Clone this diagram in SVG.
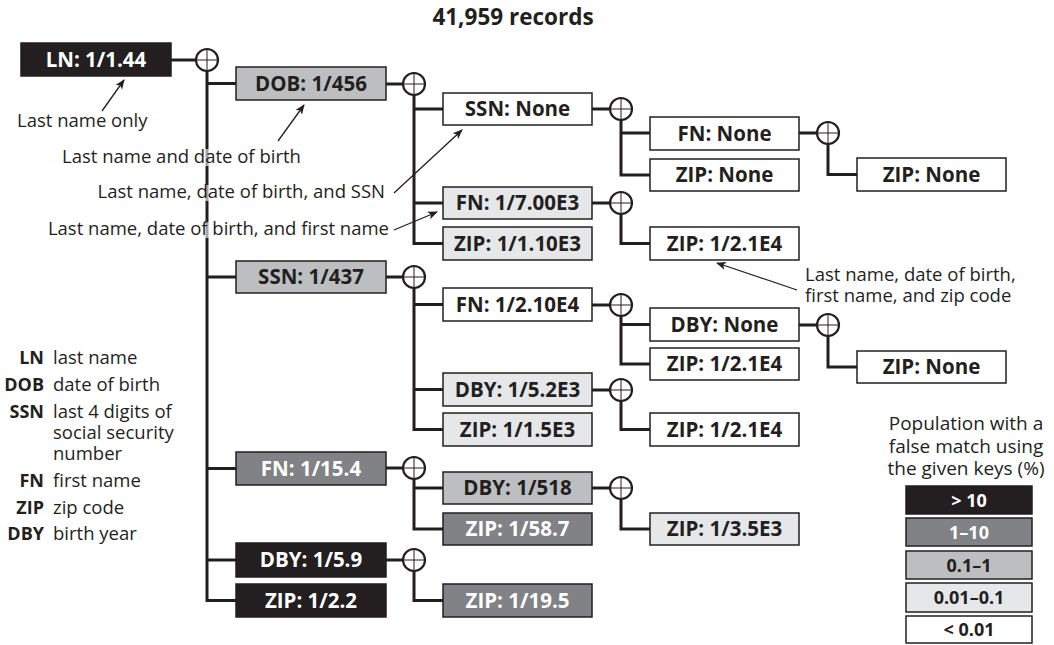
<svg xmlns="http://www.w3.org/2000/svg" width="1054" height="645" viewBox="0 0 1054 645">
<defs>
<style>
text{font-family:"Open Sans","Noto Sans","Liberation Sans",sans-serif;fill:#231f20}
.lbl{font-size:20.5px;font-weight:bold;text-anchor:middle}
.w{fill:#ffffff}
.box{stroke:#231f20;stroke-width:1.5}
.k0{fill:#231f20}.k1{fill:#808285}.k2{fill:#bcbec0}.k3{fill:#e6e7e8}.k4{fill:#ffffff}
.con{fill:none;stroke:#231f20;stroke-width:3}
.circ{fill:#ffffff;stroke:#231f20;stroke-width:2.2}
.cross{stroke:#231f20;stroke-width:1}
.ann{font-size:18.5px}
.arr{stroke:#231f20;stroke-width:1.3;fill:none;marker-end:url(#ah)}
.abb{font-size:18px;font-weight:bold;text-anchor:end}
.desc{font-size:18.5px}
.leg{font-size:19px;text-anchor:middle}
.legl{font-size:18px;font-weight:bold;text-anchor:middle}
.veil{fill:#ffffff;fill-opacity:0.6}
</style>
<marker id="ah" viewBox="0 0 10 10" refX="9" refY="5" markerWidth="10" markerHeight="10" markerUnits="userSpaceOnUse" orient="auto">
<path d="M0,1 L10,5 L0,9 L2.5,5 Z" fill="#231f20"/>
</marker>
<g id="xc">
<circle r="11" class="circ"/>
<line x1="-11" y1="0" x2="11" y2="0" class="cross"/>
<line x1="0" y1="-11" x2="0" y2="11" class="cross"/>
</g>
</defs>
<rect width="1054" height="645" fill="#ffffff"/>
<text x="513" y="25" style="font-size:22.5px;font-weight:bold;text-anchor:middle">41,959 records</text>

<g id="connectors">
<path class="con" d="M171,60 H196"/>
<path class="con" d="M207,71 V600.5 H236 M207,83.5 H236 M207,277 H236 M207,468.5 H236 M207,560 H236"/>
<path class="con" d="M386,84 H403 M386,277 H403 M386,468 H403 M386,560 H403"/>
<path class="con" d="M414,95 V243.5 H443 M414,109 H443 M414,203 H443"/>
<path class="con" d="M414,288 V429.5 H443 M414,304.5 H443 M414,389.5 H443"/>
<path class="con" d="M414,479 V529 H443 M414,488 H443"/>
<path class="con" d="M414,571 V600.5 H443"/>
<path class="con" d="M592,109 H610 M592,203 H610 M592,305 H610 M592,390 H610 M592,488 H610"/>
<path class="con" d="M621,120 V175 H650 M621,133 H650"/>
<path class="con" d="M621,214 V243.5 H650"/>
<path class="con" d="M621,316 V364 H650 M621,324.5 H650"/>
<path class="con" d="M621,401 V429.5 H650"/>
<path class="con" d="M621,499 V529 H650"/>
<path class="con" d="M799,133 H817 M799,325 H817"/>
<path class="con" d="M828,144 V174.5 H857"/>
<path class="con" d="M828,336 V367 H857"/>
<rect class="veil" x="204" y="149" width="6" height="17"/>
<rect class="veil" x="204" y="185" width="6" height="16"/>
<rect class="veil" x="204" y="221" width="6" height="17"/>
<use href="#xc" x="207" y="60"/>
<use href="#xc" x="414" y="84"/>
<use href="#xc" x="414" y="277"/>
<use href="#xc" x="414" y="468"/>
<use href="#xc" x="414" y="560"/>
<use href="#xc" x="621" y="109"/>
<use href="#xc" x="621" y="203"/>
<use href="#xc" x="621" y="305"/>
<use href="#xc" x="621" y="390"/>
<use href="#xc" x="621" y="488"/>
<use href="#xc" x="828" y="133"/>
<use href="#xc" x="828" y="325"/>
<line class="arr" x1="102" y1="111" x2="124" y2="80"/>
<line class="arr" x1="278" y1="141" x2="304" y2="105"/>
<line class="arr" x1="394" y1="193" x2="462" y2="130"/>
<line class="arr" x1="394" y1="230" x2="437" y2="212"/>
<line class="arr" x1="797" y1="290" x2="717" y2="263"/>
</g>

<g id="n-ln"><rect class="box k0" x="21" y="43" width="150" height="33"/><text class="lbl w" x="96" y="66.5">LN: 1/1.44</text></g>

<g id="n-dob"><rect class="box k2" x="236" y="67" width="150" height="33"/><text class="lbl" x="311" y="90.5">DOB: 1/456</text></g>
<g id="n-ssn"><rect class="box k2" x="236" y="261" width="150" height="32"/><text class="lbl" x="311" y="284">SSN: 1/437</text></g>
<g id="n-fn"><rect class="box k1" x="236" y="452" width="150" height="33"/><text class="lbl w" x="311" y="475.5">FN: 1/15.4</text></g>
<g id="n-dby"><rect class="box k0" x="236" y="543" width="150" height="34"/><text class="lbl w" x="311" y="567">DBY: 1/5.9</text></g>
<g id="n-zip"><rect class="box k0" x="236" y="584" width="150" height="33"/><text class="lbl w" x="311" y="607.5">ZIP: 1/2.2</text></g>

<g id="n-dob-ssn"><rect class="box k4" x="443" y="93" width="149" height="32"/><text class="lbl" x="517.5" y="116">SSN: None</text></g>
<g id="n-dob-fn"><rect class="box k3" x="443" y="187" width="149" height="32"/><text class="lbl" x="517.5" y="210">FN: 1/7.00E3</text></g>
<g id="n-dob-zip"><rect class="box k3" x="443" y="227" width="149" height="33"/><text class="lbl" x="517.5" y="250.5">ZIP: 1/1.10E3</text></g>
<g id="n-ssn-fn"><rect class="box k4" x="443" y="288" width="149" height="33"/><text class="lbl" x="517.5" y="311.5">FN: 1/2.10E4</text></g>
<g id="n-ssn-dby"><rect class="box k3" x="443" y="373" width="149" height="33"/><text class="lbl" x="517.5" y="396.5">DBY: 1/5.2E3</text></g>
<g id="n-ssn-zip"><rect class="box k3" x="443" y="413" width="149" height="33"/><text class="lbl" x="517.5" y="436.5">ZIP: 1/1.5E3</text></g>
<g id="n-fn-dby"><rect class="box k2" x="443" y="472" width="149" height="32"/><text class="lbl" x="517.5" y="495">DBY: 1/518</text></g>
<g id="n-fn-zip"><rect class="box k1" x="443" y="513" width="149" height="32"/><text class="lbl w" x="517.5" y="536">ZIP: 1/58.7</text></g>
<g id="n-dby-zip"><rect class="box k1" x="443" y="584" width="149" height="33"/><text class="lbl w" x="517.5" y="607.5">ZIP: 1/19.5</text></g>

<g id="n-dob-ssn-fn"><rect class="box k4" x="650" y="117" width="149" height="33"/><text class="lbl" x="724.5" y="140.5">FN: None</text></g>
<g id="n-dob-ssn-zip"><rect class="box k4" x="650" y="159" width="149" height="32"/><text class="lbl" x="724.5" y="182">ZIP: None</text></g>
<g id="n-dob-fn-zip"><rect class="box k4" x="650" y="227" width="149" height="33"/><text class="lbl" x="724.5" y="250.5">ZIP: 1/2.1E4</text></g>
<g id="n-ssn-fn-dby"><rect class="box k4" x="650" y="308" width="149" height="33"/><text class="lbl" x="724.5" y="331.5">DBY: None</text></g>
<g id="n-ssn-fn-zip"><rect class="box k4" x="650" y="348" width="149" height="32"/><text class="lbl" x="724.5" y="371">ZIP: 1/2.1E4</text></g>
<g id="n-ssn-dby-zip"><rect class="box k4" x="650" y="413" width="149" height="33"/><text class="lbl" x="724.5" y="436.5">ZIP: 1/2.1E4</text></g>
<g id="n-fn-dby-zip"><rect class="box k3" x="650" y="513" width="149" height="32"/><text class="lbl" x="724.5" y="536">ZIP: 1/3.5E3</text></g>

<g id="n-dob-ssn-fn-zip"><rect class="box k4" x="857" y="158" width="149" height="33"/><text class="lbl" x="931.5" y="181.5">ZIP: None</text></g>
<g id="n-ssn-fn-dby-zip"><rect class="box k4" x="857" y="351" width="149" height="32"/><text class="lbl" x="931.5" y="374">ZIP: None</text></g>

<g id="annotations">
<text class="ann" x="17" y="127">Last name only</text>
<text class="ann" x="62" y="163">Last name and date of birth</text>
<text class="ann" x="385" y="198" text-anchor="end">Last name, date of birth, and SSN</text>
<text class="ann" x="389" y="235" text-anchor="end">Last name, date of birth, and first name</text>
<text class="ann" x="805" y="281">Last name, date of birth,</text>
<text class="ann" x="805" y="302">first name, and zip code</text>
</g>

<g id="key">
<text class="abb" x="44" y="364">LN</text><text class="desc" x="53" y="364">last name</text>
<text class="abb" x="44" y="391">DOB</text><text class="desc" x="53" y="391">date of birth</text>
<text class="abb" x="44" y="418">SSN</text><text class="desc" x="53" y="418">last 4 digits of</text>
<text class="desc" x="53" y="439">social security</text>
<text class="desc" x="53" y="460">number</text>
<text class="abb" x="44" y="487">FN</text><text class="desc" x="53" y="487">first name</text>
<text class="abb" x="44" y="514">ZIP</text><text class="desc" x="53" y="514">zip code</text>
<text class="abb" x="44" y="540">DBY</text><text class="desc" x="53" y="540">birth year</text>
</g>

<g id="legend">
<text class="leg" x="966" y="430">Population with a</text>
<text class="leg" x="966" y="453">false match using</text>
<text class="leg" x="966" y="475">the given keys (%)</text>
<rect class="box k0" x="906" y="486" width="126" height="28"/><text class="legl w" x="969" y="506.5">&gt; 10</text>
<rect class="box k1" x="906" y="518" width="126" height="28"/><text class="legl w" x="969" y="538.5">1–10</text>
<rect class="box k2" x="906" y="551" width="126" height="28"/><text class="legl" x="969" y="571.5">0.1–1</text>
<rect class="box k3" x="906" y="583" width="126" height="29"/><text class="legl" x="969" y="604">0.01–0.1</text>
<rect class="box k4" x="906" y="616" width="126" height="27"/><text class="legl" x="969" y="636">&lt; 0.01</text>
</g>
</svg>
